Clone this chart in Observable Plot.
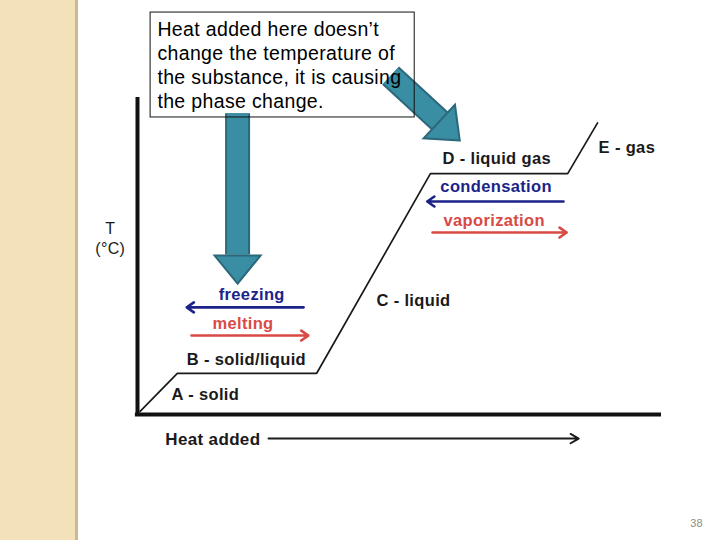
<!DOCTYPE html>
<html>
<head>
<meta charset="utf-8">
<script src="https://cdn.jsdelivr.net/npm/d3@7"></script>
<script src="https://cdn.jsdelivr.net/npm/@observablehq/plot@0.6"></script>
<style>
  html, body { margin: 0; padding: 0; background: #ffffff; }
  #wrap { position: relative; width: 720px; height: 540px; overflow: hidden; background: #ffffff; }
  #strip { position: absolute; left: 0; top: 0; width: 75px; height: 540px; background: #f3e1b9; border-right: 3px solid #cbb993; z-index: 2; }
  #chart { position: absolute; left: 0; top: 0; z-index: 1; }
  #chart svg text { letter-spacing: 0.35px; }
</style>
</head>
<body>
<div id="wrap"><div id="strip"></div><div id="chart"></div></div>
<script>
// Heating curve (heat added vs temperature, arbitrary units 0–100)
const heat = [0.5, 7.6, 34.2, 55.9, 82.1, 87.8];
const temp = [1, 13, 13, 76, 76, 92];

// Phase labels
const phaseLabels = ["A - solid", "B - solid/liquid", "C - liquid", "D - liquid gas", "E - gas"];
const phaseLabelHeat = [6.5, 9.4, 45.6, 58.2, 88.0];
const phaseLabelTemp = [6.3, 17.4, 36.0, 80.8, 84.2];

// Process labels and arrows
const processNames = ["freezing", "melting", "condensation", "vaporization"];
const processKind = ["cooling", "heating", "cooling", "heating"];
const processTextHeat = [15.5, 14.3, 57.8, 58.4];
const processTextTemp = [37.9, 28.7, 71.9, 61.2];
const processFrom = [31.7, 10.3, 81.3, 56.3];
const processTo = [9.4, 32.6, 55.3, 81.9];
const processArrowTemp = [33.8, 24.9, 67.2, 57.4];

// Callout block arrows (tail, neck, tip)
const calloutTailHeat = [19.1, 48.3];
const calloutTailTemp = [95.0, 106.9];
const calloutNeckHeat = [19.1, 58.1];
const calloutNeckTemp = [50.5, 92.0];
const calloutTipHeat = [19.1, 61.5];
const calloutTipTemp = [41.3, 86.4];
const calloutRotate = [0, -47];

// Callout box
const noteText = "Heat added here doesn\u2019t\nchange the temperature of\nthe substance, it is causing\nthe phase change.";
const noteBoxHeat = [2.5, 52.9];
const noteBoxTemp = [93.7, 126.8];

const axisLabelX = "Heat added";
const axisLabelY = ["T", "(\u00B0C)"];
const pageNumber = "38";

const curve = heat.map((h, i) => ({h, t: temp[i]}));
const phases = phaseLabels.map((label, i) => ({label, h: phaseLabelHeat[i], t: phaseLabelTemp[i]}));
const processes = processNames.map((name, i) => ({
  name, kind: processKind[i], th: processTextHeat[i], tt: processTextTemp[i],
  x1: processFrom[i], x2: processTo[i], y: processArrowTemp[i]
}));
const callouts = calloutTailHeat.map((_, i) => ({
  x1: calloutTailHeat[i], y1: calloutTailTemp[i], x2: calloutNeckHeat[i], y2: calloutNeckTemp[i],
  tx: calloutTipHeat[i], ty: calloutTipTemp[i], rot: calloutRotate[i]
}));

const kindColor = {cooling: "#1b2389", heating: "#d84a46"};
const teal = "#3a8ea4", tealDark = "#2a687a";
const font = "'Liberation Sans', Arial, sans-serif";

const arrowHead = {
  draw(ctx) {
    ctx.moveTo(0, 0);
    ctx.lineTo(-23, -28);
    ctx.lineTo(23, -28);
    ctx.closePath();
  }
};

const chart = Plot.plot({
  width: 720,
  height: 540,
  marginLeft: 137,
  marginRight: 59,
  marginTop: 97,
  marginBottom: 126,
  x: {domain: [0, 100], axis: null},
  y: {domain: [0, 100], axis: null},
  style: {background: "transparent", fontFamily: font},
  marks: [
    // block callout arrows
    Plot.link(callouts, {x1: "x1", y1: "y1", x2: "x2", y2: "y2", stroke: tealDark, strokeWidth: 25, strokeLinecap: "butt"}),
    Plot.link(callouts, {x1: "x1", y1: "y1", x2: "x2", y2: "y2", stroke: teal, strokeWidth: 21, strokeLinecap: "butt"}),
    Plot.dot(callouts, {x: "tx", y: "ty", symbol: arrowHead, rotate: "rot", fill: teal, stroke: tealDark, strokeWidth: 2, r: 10}),
    // axes
    Plot.ruleX([0], {y1: -0.3, y2: 100, stroke: "#111", strokeWidth: 4}),
    Plot.ruleY([0], {x1: -0.4, x2: 100, stroke: "#111", strokeWidth: 4}),
    // heating curve
    Plot.line(curve, {x: "h", y: "t", stroke: "#1a1a1a", strokeWidth: 1.7}),
    // phase labels
    Plot.text(phases, {x: "h", y: "t", text: "label", textAnchor: "start", fontSize: 16.5, fontWeight: "bold", fill: "#1a1a1a"}),
    // process labels & arrows
    Plot.text(processes, {x: "th", y: "tt", text: "name", textAnchor: "start", fontSize: 16.5, fontWeight: "bold", fill: d => kindColor[d.kind]}),
    Plot.arrow(processes, {x1: "x1", x2: "x2", y1: "y", y2: "y", stroke: d => kindColor[d.kind], strokeWidth: 2.6, headLength: 5, headAngle: 70}),
    // axis labels
    Plot.text([axisLabelX], {x: 5.3, y: -7.9, text: d => d, textAnchor: "start", fontSize: 17, fontWeight: "bold", fill: "#1a1a1a"}),
    Plot.arrow([0], {x1: 25.0, x2: 84.2, y1: -7.6, y2: -7.6, stroke: "#1a1a1a", strokeWidth: 2, headLength: 7, headAngle: 60}),
    Plot.text(axisLabelY, {x: -5.2, y: [58.4, 52.4], text: d => d, textAnchor: "middle", fontSize: 16, fill: "#1a1a1a"}),
    // callout box
    Plot.rect([0], {x1: noteBoxHeat[0], x2: noteBoxHeat[1], y1: noteBoxTemp[0], y2: noteBoxTemp[1], fill: "none", stroke: "#111", strokeWidth: 1}),
    Plot.text([noteText], {x: 3.8, y: 110.4, text: d => d, textAnchor: "start", fontSize: 19.5, lineHeight: 1.23, fill: "#000"}),
    // page number
    Plot.text([pageNumber], {x: 106.7, y: -34.4, text: d => d, textAnchor: "middle", fontSize: 11, fill: "#8e8e80"})
  ]
});
document.getElementById("chart").appendChild(chart);
</script>
</body>
</html>
